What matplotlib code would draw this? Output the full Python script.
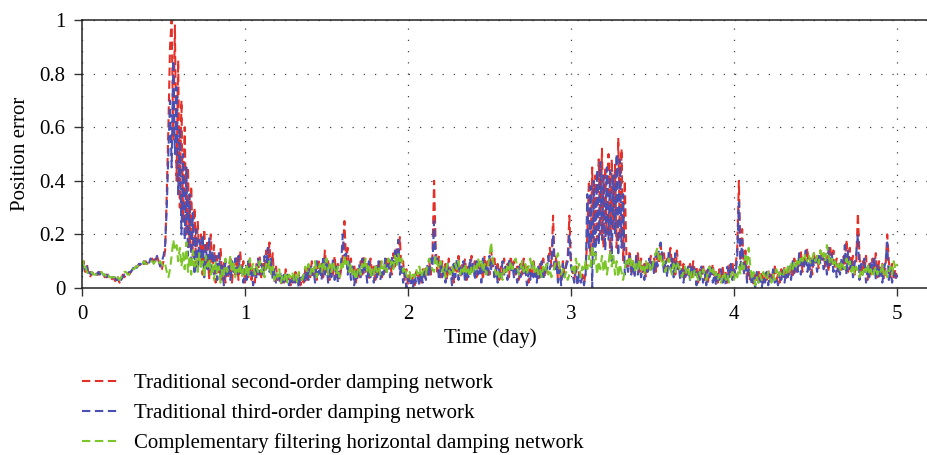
import numpy as np
import matplotlib
matplotlib.use("Agg")
import matplotlib.pyplot as plt

second_order = [
    0.08, 0.10, 0.06, 0.09, 0.05, 0.04, 0.06, 0.05, 0.06, 0.05,
    0.05, 0.06, 0.05, 0.05, 0.04, 0.05, 0.04, 0.04, 0.03, 0.04,
    0.03, 0.02, 0.04, 0.02, 0.03, 0.05, 0.04, 0.05, 0.06, 0.05,
    0.06, 0.07, 0.07, 0.08, 0.08, 0.09, 0.08, 0.09, 0.09, 0.10,
    0.09, 0.10, 0.10, 0.11, 0.10, 0.11, 0.12, 0.10, 0.08, 0.07,
    0.10, 0.14, 0.35, 0.60, 0.90, 1.00, 0.55, 0.98, 0.40, 0.85,
    0.30, 0.70, 0.25, 0.60, 0.20, 0.45, 0.15, 0.38, 0.12, 0.30,
    0.08, 0.25, 0.10, 0.20, 0.05, 0.22, 0.08, 0.18, 0.03, 0.20,
    0.06, 0.16, 0.02, 0.12, 0.05, 0.15, 0.03, 0.10, 0.02, 0.08,
    0.04, 0.11, 0.02, 0.09, 0.05, 0.12, 0.03, 0.14, 0.06, 0.10,
    0.02, 0.08, 0.04, 0.11, 0.03, 0.07, 0.02, 0.09, 0.05, 0.12,
    0.04, 0.10, 0.06, 0.14, 0.08, 0.17, 0.05, 0.13, 0.02, 0.08,
    0.03, 0.06, 0.01, 0.05, 0.02, 0.07, 0.03, 0.05, 0.01, 0.04,
    0.02, 0.06, 0.03, 0.05, 0.01, 0.04, 0.02, 0.07, 0.03, 0.08,
    0.04, 0.10, 0.05, 0.08, 0.03, 0.11, 0.06, 0.09, 0.04, 0.14,
    0.06, 0.10, 0.03, 0.08, 0.05, 0.12, 0.04, 0.09, 0.03, 0.07,
    0.12, 0.25, 0.10, 0.15, 0.06, 0.11, 0.04, 0.09, 0.02, 0.07,
    0.04, 0.10, 0.05, 0.12, 0.06, 0.09, 0.03, 0.11, 0.05, 0.08,
    0.03, 0.09, 0.05, 0.11, 0.04, 0.08, 0.06, 0.12, 0.07, 0.10,
    0.05, 0.13, 0.08, 0.15, 0.10, 0.19, 0.06, 0.10, 0.03, 0.07,
    0.01, 0.05, 0.02, 0.04, 0.01, 0.06, 0.03, 0.05, 0.02, 0.07,
    0.03, 0.08, 0.04, 0.10, 0.05, 0.12, 0.40, 0.15, 0.06, 0.12,
    0.04, 0.10, 0.05, 0.09, 0.03, 0.11, 0.06, 0.08, 0.02, 0.10,
    0.05, 0.12, 0.04, 0.09, 0.06, 0.11, 0.03, 0.08, 0.05, 0.12,
    0.07, 0.10, 0.04, 0.11, 0.06, 0.09, 0.03, 0.12, 0.07, 0.10,
    0.05, 0.14, 0.08, 0.11, 0.05, 0.09, 0.03, 0.08, 0.05, 0.11,
    0.06, 0.09, 0.04, 0.12, 0.07, 0.10, 0.05, 0.08, 0.03, 0.09,
    0.05, 0.11, 0.06, 0.08, 0.02, 0.07, 0.04, 0.10, 0.05, 0.08,
    0.03, 0.09, 0.05, 0.11, 0.04, 0.08, 0.10, 0.15, 0.08, 0.27,
    0.07, 0.12, 0.03, 0.08, 0.02, 0.10, 0.05, 0.09, 0.12, 0.27,
    0.10, 0.06, 0.03, 0.08, 0.02, 0.06, 0.03, 0.05, 0.02, 0.06,
    0.20, 0.40, 0.12, 0.45, 0.15, 0.42, 0.18, 0.48, 0.20, 0.52,
    0.15, 0.45, 0.20, 0.50, 0.12, 0.48, 0.22, 0.46, 0.15, 0.56,
    0.18, 0.52, 0.10, 0.40, 0.12, 0.08, 0.14, 0.06, 0.10, 0.05,
    0.08, 0.13, 0.06, 0.11, 0.05, 0.09, 0.04, 0.10, 0.07, 0.12,
    0.08, 0.11, 0.06, 0.14, 0.09, 0.16, 0.10, 0.13, 0.07, 0.11,
    0.10, 0.15, 0.08, 0.12, 0.05, 0.14, 0.07, 0.10, 0.04, 0.09,
    0.03, 0.08, 0.05, 0.09, 0.04, 0.10, 0.06, 0.08, 0.02, 0.07,
    0.04, 0.09, 0.03, 0.07, 0.02, 0.08, 0.05, 0.09, 0.03, 0.06,
    0.02, 0.07, 0.04, 0.08, 0.03, 0.06, 0.02, 0.09, 0.05, 0.10,
    0.04, 0.08, 0.15, 0.40, 0.10, 0.22, 0.06, 0.14, 0.03, 0.08,
    0.02, 0.06, 0.01, 0.05, 0.03, 0.07, 0.02, 0.06, 0.01, 0.05,
    0.03, 0.07, 0.02, 0.06, 0.04, 0.08, 0.03, 0.05, 0.02, 0.07,
    0.04, 0.08, 0.03, 0.07, 0.05, 0.09, 0.04, 0.11, 0.06, 0.10,
    0.08, 0.14, 0.06, 0.12, 0.09, 0.15, 0.07, 0.11, 0.05, 0.13,
    0.09, 0.12, 0.07, 0.14, 0.10, 0.13, 0.08, 0.12, 0.06, 0.16,
    0.09, 0.14, 0.07, 0.11, 0.05, 0.10, 0.06, 0.12, 0.08, 0.18,
    0.06, 0.15, 0.08, 0.12, 0.05, 0.10, 0.28, 0.12, 0.04, 0.10,
    0.06, 0.12, 0.03, 0.09, 0.05, 0.11, 0.07, 0.13, 0.04, 0.10,
    0.05, 0.09, 0.03, 0.08, 0.20, 0.10, 0.04, 0.09, 0.03, 0.07,
    0.04,
]

third_order = [
    0.06, 0.09, 0.07, 0.08, 0.05, 0.06, 0.05, 0.06, 0.05, 0.05,
    0.06, 0.05, 0.06, 0.05, 0.05, 0.04, 0.05, 0.04, 0.04, 0.04,
    0.04, 0.03, 0.03, 0.04, 0.03, 0.04, 0.05, 0.05, 0.05, 0.06,
    0.06, 0.07, 0.08, 0.07, 0.08, 0.09, 0.09, 0.08, 0.10, 0.09,
    0.10, 0.09, 0.11, 0.10, 0.11, 0.10, 0.12, 0.11, 0.08, 0.10,
    0.12, 0.16, 0.30, 0.50, 0.70, 0.45, 0.85, 0.50, 0.75, 0.35,
    0.60, 0.20, 0.50, 0.18, 0.45, 0.12, 0.35, 0.10, 0.28, 0.05,
    0.22, 0.06, 0.18, 0.08, 0.20, 0.04, 0.16, 0.07, 0.19, 0.05,
    0.14, 0.04, 0.12, 0.03, 0.13, 0.05, 0.09, 0.01, 0.10, 0.04,
    0.09, 0.03, 0.10, 0.06, 0.11, 0.04, 0.12, 0.05, 0.09, 0.02,
    0.07, 0.03, 0.10, 0.04, 0.06, 0.01, 0.08, 0.04, 0.11, 0.05,
    0.09, 0.05, 0.12, 0.07, 0.15, 0.06, 0.11, 0.03, 0.07, 0.02,
    0.05, 0.02, 0.06, 0.01, 0.06, 0.02, 0.05, 0.01, 0.04, 0.02,
    0.05, 0.02, 0.04, 0.00, 0.05, 0.03, 0.06, 0.02, 0.07, 0.03,
    0.09, 0.04, 0.07, 0.02, 0.10, 0.05, 0.08, 0.03, 0.12, 0.05,
    0.09, 0.02, 0.07, 0.04, 0.11, 0.03, 0.08, 0.02, 0.06, 0.10,
    0.20, 0.12, 0.13, 0.05, 0.10, 0.03, 0.08, 0.01, 0.06, 0.03,
    0.09, 0.04, 0.11, 0.05, 0.08, 0.02, 0.10, 0.04, 0.07, 0.02,
    0.08, 0.04, 0.10, 0.03, 0.07, 0.05, 0.11, 0.06, 0.09, 0.04,
    0.12, 0.07, 0.14, 0.09, 0.18, 0.05, 0.09, 0.02, 0.06, 0.00,
    0.04, 0.01, 0.03, 0.00, 0.05, 0.02, 0.04, 0.01, 0.06, 0.02,
    0.07, 0.03, 0.09, 0.04, 0.11, 0.08, 0.25, 0.09, 0.11, 0.03,
    0.09, 0.04, 0.08, 0.02, 0.10, 0.05, 0.07, 0.01, 0.09, 0.04,
    0.11, 0.03, 0.08, 0.05, 0.10, 0.02, 0.07, 0.04, 0.11, 0.06,
    0.09, 0.03, 0.10, 0.05, 0.08, 0.02, 0.11, 0.06, 0.09, 0.04,
    0.12, 0.07, 0.10, 0.04, 0.08, 0.02, 0.07, 0.04, 0.10, 0.05,
    0.08, 0.03, 0.11, 0.06, 0.09, 0.04, 0.07, 0.02, 0.08, 0.04,
    0.10, 0.05, 0.07, 0.01, 0.06, 0.03, 0.09, 0.04, 0.07, 0.02,
    0.08, 0.04, 0.10, 0.03, 0.07, 0.06, 0.12, 0.07, 0.10, 0.20,
    0.06, 0.10, 0.02, 0.07, 0.01, 0.09, 0.04, 0.08, 0.10, 0.20,
    0.08, 0.05, 0.02, 0.07, 0.01, 0.05, 0.02, 0.04, 0.01, 0.05,
    0.35, 0.15, 0.38, 0.00, 0.40, 0.12, 0.44, 0.16, 0.47, 0.18,
    0.42, 0.14, 0.45, 0.18, 0.44, 0.10, 0.42, 0.20, 0.50, 0.12,
    0.48, 0.15, 0.35, 0.05, 0.10, 0.06, 0.12, 0.05, 0.09, 0.04,
    0.12, 0.05, 0.10, 0.04, 0.08, 0.03, 0.09, 0.06, 0.11, 0.07,
    0.10, 0.05, 0.13, 0.08, 0.15, 0.17, 0.12, 0.06, 0.10, 0.04,
    0.14, 0.07, 0.11, 0.04, 0.13, 0.06, 0.09, 0.03, 0.08, 0.02,
    0.07, 0.04, 0.08, 0.03, 0.09, 0.05, 0.07, 0.01, 0.06, 0.03,
    0.08, 0.02, 0.06, 0.01, 0.07, 0.04, 0.08, 0.02, 0.05, 0.01,
    0.06, 0.03, 0.07, 0.02, 0.05, 0.01, 0.08, 0.04, 0.09, 0.03,
    0.07, 0.05, 0.12, 0.32, 0.08, 0.18, 0.05, 0.12, 0.02, 0.07,
    0.05, 0.01, 0.04, 0.00, 0.06, 0.02, 0.05, 0.00, 0.04, 0.02,
    0.06, 0.01, 0.05, 0.03, 0.07, 0.02, 0.04, 0.01, 0.06, 0.03,
    0.07, 0.02, 0.06, 0.04, 0.08, 0.03, 0.10, 0.05, 0.09, 0.06,
    0.13, 0.05, 0.11, 0.08, 0.14, 0.06, 0.10, 0.04, 0.12, 0.08,
    0.11, 0.06, 0.13, 0.09, 0.12, 0.07, 0.11, 0.05, 0.15, 0.08,
    0.13, 0.06, 0.10, 0.04, 0.09, 0.05, 0.11, 0.07, 0.16, 0.05,
    0.14, 0.07, 0.11, 0.04, 0.09, 0.13, 0.20, 0.03, 0.09, 0.05,
    0.11, 0.02, 0.08, 0.04, 0.10, 0.06, 0.12, 0.03, 0.09, 0.04,
    0.08, 0.02, 0.07, 0.10, 0.17, 0.03, 0.08, 0.02, 0.06, 0.03,
    0.05,
]

complementary = [
    0.07, 0.10, 0.08, 0.06, 0.05, 0.05, 0.06, 0.05, 0.05, 0.05,
    0.05, 0.05, 0.06, 0.05, 0.05, 0.04, 0.05, 0.04, 0.04, 0.04,
    0.04, 0.03, 0.04, 0.03, 0.04, 0.05, 0.06, 0.06, 0.05, 0.05,
    0.06, 0.07, 0.07, 0.08, 0.08, 0.09, 0.09, 0.09, 0.10, 0.09,
    0.09, 0.10, 0.10, 0.10, 0.09, 0.10, 0.09, 0.09, 0.10, 0.09,
    0.08, 0.09, 0.06, 0.04, 0.07, 0.12, 0.18, 0.14, 0.16, 0.10,
    0.15, 0.08, 0.13, 0.07, 0.17, 0.06, 0.12, 0.05, 0.14, 0.08,
    0.11, 0.06, 0.13, 0.07, 0.10, 0.04, 0.12, 0.08, 0.11, 0.05,
    0.09, 0.03, 0.10, 0.05, 0.08, 0.02, 0.07, 0.05, 0.11, 0.06,
    0.08, 0.12, 0.06, 0.10, 0.04, 0.08, 0.06, 0.09, 0.04, 0.07,
    0.05, 0.09, 0.04, 0.11, 0.07, 0.09, 0.05, 0.08, 0.06, 0.10,
    0.06, 0.08, 0.04, 0.09, 0.07, 0.10, 0.05, 0.08, 0.03, 0.06,
    0.04, 0.07, 0.02, 0.05, 0.03, 0.06, 0.02, 0.05, 0.04, 0.06,
    0.03, 0.05, 0.02, 0.06, 0.04, 0.03, 0.05, 0.08, 0.06, 0.09,
    0.05, 0.08, 0.06, 0.10, 0.04, 0.07, 0.09, 0.06, 0.10, 0.07,
    0.11, 0.05, 0.09, 0.06, 0.10, 0.07, 0.05, 0.08, 0.04, 0.09,
    0.07, 0.12, 0.08, 0.10, 0.06, 0.09, 0.05, 0.07, 0.03, 0.06,
    0.08, 0.05, 0.09, 0.07, 0.11, 0.06, 0.08, 0.04, 0.07, 0.05,
    0.09, 0.06, 0.08, 0.05, 0.10, 0.07, 0.09, 0.06, 0.11, 0.08,
    0.10, 0.07, 0.12, 0.08, 0.13, 0.09, 0.11, 0.06, 0.08, 0.05,
    0.04, 0.06, 0.03, 0.05, 0.04, 0.07, 0.05, 0.08, 0.04, 0.06,
    0.07, 0.05, 0.09, 0.11, 0.08, 0.07, 0.06, 0.12, 0.09, 0.07,
    0.10, 0.06, 0.08, 0.04, 0.09, 0.07, 0.05, 0.08, 0.06, 0.09,
    0.07, 0.10, 0.05, 0.08, 0.06, 0.09, 0.05, 0.07, 0.04, 0.08,
    0.06, 0.09, 0.07, 0.11, 0.08, 0.10, 0.06, 0.09, 0.05, 0.08,
    0.12, 0.17, 0.10, 0.08, 0.05, 0.07, 0.04, 0.06, 0.03, 0.07,
    0.05, 0.08, 0.06, 0.10, 0.07, 0.09, 0.11, 0.08, 0.05, 0.07,
    0.10, 0.06, 0.09, 0.05, 0.08, 0.11, 0.07, 0.10, 0.06, 0.08,
    0.05, 0.07, 0.04, 0.08, 0.06, 0.09, 0.05, 0.07, 0.04, 0.06,
    0.08, 0.11, 0.13, 0.08, 0.05, 0.07, 0.04, 0.06, 0.03, 0.05,
    0.06, 0.08, 0.05, 0.11, 0.07, 0.09, 0.04, 0.08, 0.06, 0.10,
    0.07, 0.12, 0.08, 0.16, 0.09, 0.13, 0.05, 0.10, 0.07, 0.12,
    0.06, 0.11, 0.05, 0.09, 0.14, 0.08, 0.12, 0.05, 0.10, 0.04,
    0.09, 0.06, 0.03, 0.07, 0.11, 0.09, 0.12, 0.08, 0.10, 0.06,
    0.09, 0.07, 0.11, 0.06, 0.08, 0.05, 0.10, 0.07, 0.09, 0.06,
    0.08, 0.11, 0.13, 0.15, 0.10, 0.12, 0.08, 0.10, 0.06, 0.09,
    0.11, 0.07, 0.05, 0.09, 0.06, 0.10, 0.08, 0.07, 0.04, 0.06,
    0.08, 0.05, 0.07, 0.03, 0.06, 0.04, 0.07, 0.05, 0.03, 0.06,
    0.04, 0.07, 0.05, 0.03, 0.06, 0.08, 0.05, 0.07, 0.04, 0.06,
    0.03, 0.05, 0.02, 0.04, 0.06, 0.03, 0.05, 0.02, 0.04, 0.06,
    0.03, 0.06, 0.04, 0.08, 0.05, 0.10, 0.07, 0.12, 0.09, 0.15,
    0.08, 0.03, 0.06, 0.01, 0.04, 0.02, 0.05, 0.03, 0.06, 0.04,
    0.03, 0.06, 0.04, 0.02, 0.05, 0.03, 0.07, 0.04, 0.06, 0.05,
    0.04, 0.07, 0.05, 0.08, 0.06, 0.09, 0.07, 0.10, 0.08, 0.11,
    0.09, 0.12, 0.10, 0.13, 0.11, 0.10, 0.12, 0.09, 0.11, 0.13,
    0.10, 0.12, 0.09, 0.14, 0.11, 0.13, 0.10, 0.16, 0.12, 0.09,
    0.11, 0.08, 0.10, 0.07, 0.09, 0.06, 0.10, 0.08, 0.07, 0.11,
    0.08, 0.10, 0.06, 0.09, 0.05, 0.08, 0.06, 0.04, 0.07, 0.05,
    0.08, 0.06, 0.09, 0.05, 0.07, 0.04, 0.06, 0.08, 0.05, 0.07,
    0.06, 0.09, 0.05, 0.07, 0.04, 0.06, 0.08, 0.05, 0.10, 0.07,
    0.09,
]

labels = [
    "Traditional second-order damping network",
    "Traditional third-order damping network",
    "Complementary filtering horizontal damping network",
]
colors = ["#e3312a", "#4a4fb2", "#7cc62a"]

t = np.linspace(0, 5, len(second_order))

plt.rcParams["font.family"] = ["Liberation Serif", "DejaVu Serif"]
plt.rcParams["font.size"] = 15

fig = plt.figure(figsize=(9.27, 4.55), dpi=100)
ax = fig.add_axes([82 / 927, 1 - 288 / 455, 1 - 82 / 927, (288 - 20) / 455])

lines = []
for y, c, lab in zip([second_order, third_order, complementary], colors, labels):
    ln, = ax.plot(t, y, color=c, linewidth=1.5, dashes=(4, 2.2), label=lab)
    lines.append(ln)

ax.set_xlim(0, (927 - 82) / 163)
ax.set_ylim(0, 1)
ax.set_xticks([0, 1, 2, 3, 4, 5])
ax.set_yticks([0, 0.2, 0.4, 0.6, 0.8, 1])
ax.set_yticklabels(["0", "0.2", "0.4", "0.6", "0.8", "1"])
ax.grid(True, color="#444444", linestyle=(0, (1, 8)), linewidth=0.9)
ax.tick_params(direction="out", length=6, width=1, color="#333333", pad=6)
ax.spines["right"].set_visible(False)
for s in ["top", "left", "bottom"]:
    ax.spines[s].set_linewidth(1.1)
    ax.spines[s].set_color("#222222")

ax.set_xlabel("Time (day)")
ax.xaxis.set_label_coords((490 - 82) / (927 - 82), -0.15)
ax.set_ylabel("Position error")
ax.yaxis.set_label_coords(-0.062, 0.5)

fig.legend(handles=lines, loc="upper left", bbox_to_anchor=(74 / 927, 1 - 365 / 455),
           frameon=False, handlelength=1.75, handletextpad=0.75, labelspacing=0.5,
           borderaxespad=0)

fig.savefig("out.png", dpi=100)
